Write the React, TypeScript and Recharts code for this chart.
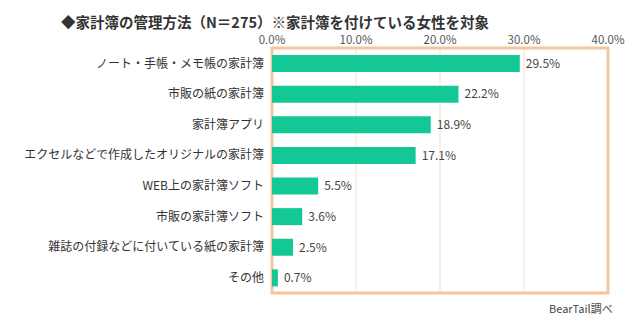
import React from "react";
import { BarChart, Bar, XAxis, YAxis, CartesianGrid, ReferenceArea, LabelList } from "recharts";

const categories = [
  "ノート・手帳・メモ帳の家計簿",
  "市販の紙の家計簿",
  "家計簿アプリ",
  "エクセルなどで作成したオリジナルの家計簿",
  "WEB上の家計簿ソフト",
  "市販の家計簿ソフト",
  "雑誌の付録などに付いている紙の家計簿",
  "その他",
];
const values = [29.5, 22.2, 18.9, 17.1, 5.5, 3.6, 2.5, 0.7];
const xTicks = [0, 10, 20, 30, 40];
const title = "◆家計簿の管理方法（N＝275）※家計簿を付けている女性を対象";
const source = "BearTail調べ";

const data = categories.map((name, i) => ({ name, value: values[i] }));

const FONT = "'Noto Sans CJK JP', 'Noto Sans', sans-serif";

export default function App() {
  return (
    <div style={{ position: "fixed", left: 0, top: 0, width: 640, height: 327, background: "#fff", fontFamily: FONT }}>
      <div style={{ position: "absolute", left: 61, top: 13, fontSize: 14.5, fontWeight: 700, color: "#333", whiteSpace: "nowrap", lineHeight: "18px" }}>
        {title}
      </div>
      <BarChart
        width={640}
        height={327}
        data={data}
        layout="vertical"
        margin={{ top: 18, right: 32, bottom: 34, left: 0 }}
        barSize={17}
      >
        <CartesianGrid horizontal={false} vertical={true} stroke="#f3dfcc" strokeWidth={1} />
        <XAxis
          type="number"
          orientation="top"
          domain={[0, 40]}
          ticks={xTicks}
          height={30}
          axisLine={false}
          tickLine={false}
          tickSize={4}
          tickMargin={0}
          interval={0}
          tickFormatter={(v: number) => v.toFixed(1) + "%"}
          tick={{ fill: "#555", fontSize: 11.5, fontFamily: FONT }}
        />
        <YAxis
          type="category"
          dataKey="name"
          width={272}
          axisLine={false}
          tickLine={false}
          interval={0}
          tick={{ fill: "#333", fontSize: 12, fontFamily: FONT }}
        />
        <ReferenceArea x1={0} x2={40} fill="none" stroke="#f5c69e" strokeWidth={3} ifOverflow="visible" />
        <Bar dataKey="value" fill="#14c896" isAnimationActive={false}>
          <LabelList
            dataKey="value"
            position="right"
            offset={6}
            formatter={(v: number) => v.toFixed(1) + "%"}
            style={{ fill: "#444", fontSize: 12, fontFamily: FONT }}
          />
        </Bar>
      </BarChart>
      <div style={{ position: "absolute", left: 549, top: 300, fontSize: 11, color: "#444", whiteSpace: "nowrap", lineHeight: "16px" }}>
        {source}
      </div>
    </div>
  );
}
